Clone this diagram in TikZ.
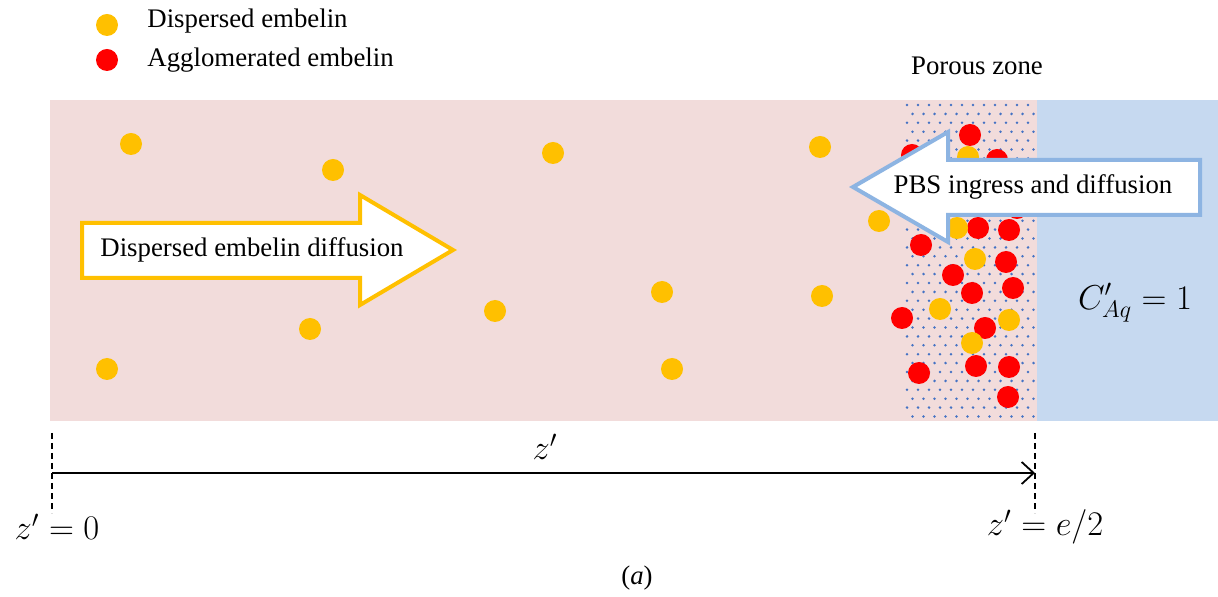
\documentclass[tikz,border=0pt]{standalone}
\usepackage{fontspec}
\setmainfont{Liberation Serif}
\usepackage{xcolor}
\usetikzlibrary{arrows.meta,positioning}

\definecolor{gelpink}{RGB}{242,220,219}
\definecolor{pbsblue}{RGB}{198,217,240}
\definecolor{poredot}{RGB}{68,114,196}
\definecolor{embyellow}{RGB}{255,192,0}
\definecolor{embred}{RGB}{255,0,0}
\definecolor{arrowblue}{RGB}{141,180,226}

\begin{document}
\begin{tikzpicture}[
    x=0.5pt, y=-0.5pt,
    txt/.style={font=\fontsize{13.4}{16}\selectfont, inner sep=0pt},
    mathtxt/.style={font=\fontsize{16.5}{19}\selectfont, inner sep=0pt},
    dispersed/.style={fill=embyellow},
    agglo/.style={fill=embred},
    bigarrow/.style={line width=2pt, fill=white, line join=miter},
    axis/.style={-{Straight Barb[length=6pt, width=11pt]}, line width=0.9pt},
    guide/.style={dashed, line width=0.6pt, dash pattern=on 3pt off 2pt}
]
\useasboundingbox (0,0) rectangle (1218,597);

% regions
\fill[gelpink] (50,100) rectangle (1037,421);
\fill[pbsblue] (1037,100) rectangle (1218,421);

% porous zone dots
\foreach \r in {0,...,35}{
  \foreach \c in {0,...,11}{
    \pgfmathsetmacro{\px}{907+11*\c+5.5*mod(\r,2)}
    \pgfmathsetmacro{\py}{105+8.9*\r}
    \fill[poredot] (\px,\py) circle[radius=1.4];
  }
}

% legend
\fill[dispersed] (107,25) circle[radius=11];
\fill[agglo] (107,60) circle[radius=11];
\node[txt, anchor=west] (legdisp) at (147,21) {Dispersed embelin};
\node[txt, anchor=west] (legagg) at (147,60) {Agglomerated embelin};
\node[txt] (porous) at (977,66) {Porous zone};

% particles
\foreach \x/\y in {131/144, 333/170, 553/153, 820/147, 879/221, 107/369,
    310/329, 495/311, 662/292, 822/296, 672/369, 968/157}
  \fill[dispersed] (\x,\y) circle[radius=11];
\foreach \x/\y in {970/135, 912/155, 997/160, 1017/208, 978/228, 1009/230,
    921/245, 1006/262, 953/275, 972/293, 1013/288, 902/318, 985/328,
    919/373, 976/366, 1009/367, 1008/397}
  \fill[agglo] (\x,\y) circle[radius=11];
\foreach \x/\y in {957/228, 975/259, 940/309, 1009/320, 972/343}
  \fill[dispersed] (\x,\y) circle[radius=11];

% flux arrows
\draw[bigarrow, draw=embyellow] (82,223) -- (360,223) -- (360,195) -- (453,250)
    -- (360,305) -- (360,278) -- (82,278) -- cycle;
\node[txt] (embflux) at (252,250) {Dispersed embelin diffusion};

\draw[bigarrow, draw=arrowblue] (853,187) -- (948,132) -- (948,160) -- (1200,160)
    -- (1200,215) -- (948,215) -- (948,242) -- cycle;
\node[txt] (pbsflux) at (1033,187) {PBS ingress and diffusion};

\node[mathtxt] (conc) at (1135,303) {$C'_{Aq} = 1$};

% z' axis
\coordinate (ztop0) at (52,433);
\coordinate (zbot0) at (52,513);
\coordinate (ztop1) at (1035,433);
\coordinate (zbot1) at (1035,513);
\coordinate (zstart) at (52,473);
\coordinate (zend) at (1035,473);
\draw[guide] (ztop0) -- (zbot0);
\draw[guide] (ztop1) -- (zbot1);
\draw[axis] (zstart) -- (zend);
\node[mathtxt] (zlab) at (545,447) {$z'$};
\node[mathtxt] (zzero) at (57,527) {$z' = 0$};
\node[mathtxt] (zhalf) at (1045,527) {$z' = e/2$};
\node[txt] (caption) at (637,578) {(\textit{a})};
\end{tikzpicture}
\end{document}
